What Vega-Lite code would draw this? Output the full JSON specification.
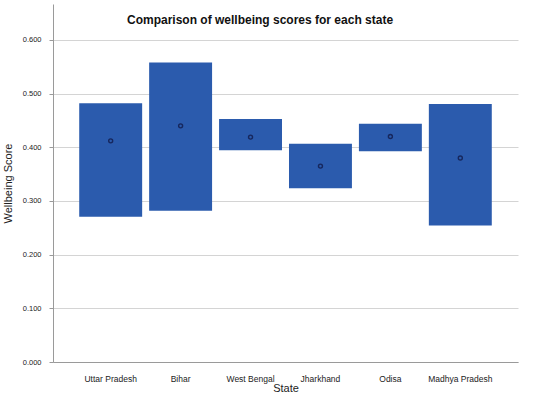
{
  "$schema": "https://vega.github.io/schema/vega-lite/v6.json",
  "autosize": "none",
  "width": 465,
  "height": 358,
  "padding": {"left": 53, "top": 4, "right": 32, "bottom": 36},
  "background": "white",
  "title": {
    "text": "Comparison of wellbeing scores for each state",
    "frame": "group",
    "anchor": "start",
    "orient": "top",
    "dx": 74,
    "offset": -32,
    "baseline": "alphabetic",
    "font": "Liberation Sans",
    "fontSize": 12,
    "fontWeight": "bold",
    "color": "#111111"
  },
  "data": {
    "values": [
      {"state": "Uttar Pradesh", "low": 0.2705, "high": 0.482, "mean": 0.412},
      {"state": "Bihar", "low": 0.2817, "high": 0.558, "mean": 0.440},
      {"state": "West Bengal", "low": 0.3944, "high": 0.4528, "mean": 0.419},
      {"state": "Jharkhand", "low": 0.3235, "high": 0.4067, "mean": 0.365},
      {"state": "Odisa", "low": 0.3925, "high": 0.444, "mean": 0.420},
      {"state": "Madhya Pradesh", "low": 0.2545, "high": 0.4808, "mean": 0.380}
    ]
  },
  "encoding": {
    "x": {
      "field": "state",
      "type": "nominal",
      "sort": null,
      "scale": {"paddingInner": 0.1, "paddingOuter": 0.375},
      "axis": {
        "title": "State",
        "labelAngle": 0,
        "ticks": false,
        "tickSize": 0,
        "labelPadding": 12,
        "labelFont": "Liberation Sans",
        "labelFontSize": 8.5,
        "labelColor": "#222222",
        "titleFont": "Liberation Sans",
        "titleFontSize": 11,
        "titleFontWeight": "normal",
        "titleColor": "#222222",
        "titlePadding": 0,
        "domainColor": "#9a9a9a",
        "grid": false
      }
    }
  },
  "layer": [
    {
      "mark": {"type": "bar", "color": "#2b5bad"},
      "encoding": {
        "y": {
          "field": "low",
          "type": "quantitative",
          "scale": {"domain": [0, 0.667], "nice": false, "zero": false},
          "axis": {
            "title": "Wellbeing Score",
            "values": [0, 0.1, 0.2, 0.3, 0.4, 0.5, 0.6],
            "format": ".3f",
            "tickSize": 4,
            "tickColor": "#9a9a9a",
            "labelPadding": 8,
            "labelFont": "Liberation Sans",
            "labelFontSize": 7.5,
            "labelColor": "#222222",
            "titleFont": "Liberation Sans",
            "titleFontSize": 11,
            "titleFontWeight": "normal",
            "titleColor": "#222222",
            "titlePadding": 9,
            "domainColor": "#9a9a9a",
            "grid": true,
            "gridColor": "#d4d4d4",
            "gridWidth": 1
          }
        },
        "y2": {"field": "high"}
      }
    },
    {
      "mark": {"type": "point", "shape": "circle", "filled": false, "stroke": "#16275e", "strokeWidth": 1.4, "size": 16, "opacity": 1},
      "encoding": {
        "y": {"field": "mean", "type": "quantitative"}
      }
    }
  ],
  "config": {
    "view": {"stroke": null}
  }
}
